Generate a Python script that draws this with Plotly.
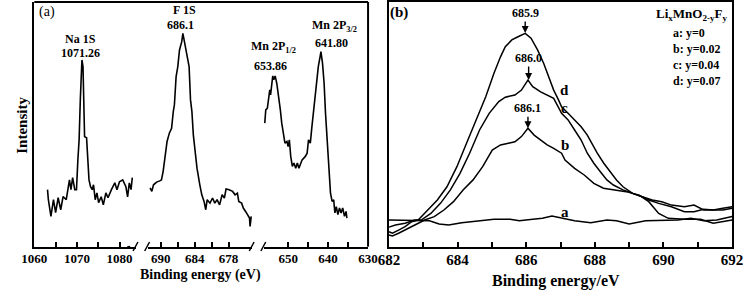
import plotly.graph_objects as go

# ---------------- Panel (a) data ----------------
na_energy = [1063.1, 1063.3, 1063.9, 1064.5, 1065.0, 1065.6, 1066.2, 1066.75, 1067.5, 1068.25,
             1068.6, 1069.0, 1069.5, 1069.9, 1070.23, 1070.52, 1070.8, 1070.98, 1071.18, 1071.43,
             1071.66, 1071.8, 1072.27, 1072.6, 1072.84, 1073.2, 1073.6, 1073.9, 1074.3, 1074.7,
             1075.1, 1075.7, 1076.2, 1076.8, 1077.3, 1078.1, 1078.9, 1079.4, 1080.0, 1080.75,
             1081.5, 1081.9, 1082.3, 1082.7, 1083.0]
na_int = [23.3, 19.2, 12.4, 19.2, 13.9, 20.0, 15.1, 20.5, 19.2, 27.3,
          23.3, 28.2, 23.3, 23.3, 35.5, 43.7, 60.0, 73.6, 76.3, 73.6,
          55.9, 45.0, 44.5, 35.5, 27.3, 24.5, 23.3, 25.3, 19.2, 22.0,
          18.0, 20.4, 17.1, 22.0, 20.0, 23.3, 26.1, 23.3, 26.5, 27.3,
          24.5, 20.4, 26.1, 23.3, 28.2]

f_energy = [691.9, 691.6, 691.3, 690.75, 690.2, 689.9, 689.6, 689.3, 688.9, 688.5,
            688.1, 687.8, 687.6, 687.3, 687.0, 686.7, 686.3, 686.1, 685.6, 685.3,
            685.0, 684.75, 684.5, 684.25, 684.05, 683.6, 683.1, 682.75, 682.35, 682.05,
            681.8, 681.3, 680.85, 680.45, 680.05, 679.6, 679.15, 678.75, 678.45, 677.9,
            677.3, 676.85, 676.45, 676.2, 675.7, 675.4, 675.0, 674.7, 674.3, 674.2, 674.0]
f_int = [24.0, 22.6, 25.3, 26.4, 26.9, 27.3, 30.7, 36.2, 43.0, 46.4,
         48.4, 55.2, 58.0, 69.5, 73.6, 80.4, 83.8, 87.2, 80.4, 77.7,
         73.6, 60.0, 55.2, 45.7, 41.6, 32.1, 25.3, 21.2, 18.5, 15.1,
         19.2, 17.8, 19.9, 17.8, 19.2, 17.1, 21.2, 19.9, 23.6, 23.3,
         22.6, 21.2, 21.9, 18.5, 17.8, 15.8, 14.4, 13.1, 11.7, 8.3, 12.4]

mn_energy = [655.85, 655.6, 655.2, 654.9, 654.6, 654.4, 654.1, 653.85, 653.6, 653.25,
             652.85, 652.45, 651.95, 651.6, 651.15, 650.8, 650.3, 650.0, 649.7, 649.35,
             648.95, 648.55, 648.1, 647.7, 647.3, 646.9, 646.5, 645.7, 645.25, 644.9,
             644.45, 644.05, 643.65, 643.25, 642.85, 642.45, 642.0, 641.8, 641.4, 641.0,
             640.65, 640.25, 639.85, 639.4, 639.0, 638.6, 638.3, 637.95, 637.55, 637.15,
             636.75, 636.35, 635.9, 635.5, 635.3]
mn_int = [50.5, 55.9, 56.6, 61.3, 64.1, 62.0, 68.2, 69.8, 68.2, 69.8,
          66.8, 62.7, 55.9, 50.5, 45.0, 42.3, 43.0, 40.9, 43.7, 36.9,
          32.8, 34.2, 32.1, 34.2, 32.1, 34.2, 35.5, 36.9, 38.2, 43.7,
          42.3, 49.1, 55.9, 60.0, 66.8, 73.6, 77.7, 79.7, 75.0, 66.8,
          54.6, 43.7, 30.1, 21.9, 18.5, 19.2, 13.8, 16.4, 13.1, 15.8,
          13.8, 15.8, 12.4, 14.4, 11.7]

seg1_ticks = [1060, 1070, 1080]
seg1_minor = [1065, 1075]
seg2_ticks = [690, 684, 678]
seg2_minor = [687, 681]
seg3_ticks = [650, 640, 630]
seg3_minor = [645, 635]

# ---------------- Panel (b) data ----------------
a_E = [682.0, 682.7, 683.18, 683.46, 683.74, 684.12, 684.6, 685.06, 685.53, 685.8,
       686.19, 686.47, 686.75, 687.03, 687.41, 687.88, 688.35, 688.63, 689.0, 689.48,
       689.95, 690.42, 690.8, 691.17, 691.55, 692.0]
a_I = [10.9, 10.9, 10.6, 9.3, 8.9, 9.8, 10.6, 11.2, 11.2, 10.6,
       11.2, 11.6, 12.5, 11.6, 10.6, 9.8, 10.9, 10.6, 9.3, 10.6,
       10.9, 10.9, 11.6, 10.6, 10.9, 12.3]

b_E = [682.0, 682.1, 682.28, 682.47, 682.75, 683.04, 683.32, 683.6, 683.88, 684.16,
       684.45, 684.73, 685.01, 685.25, 685.48, 685.67, 685.86, 686.05, 686.23, 686.42,
       686.61, 686.8, 687.03, 687.13, 687.41, 687.69, 687.97, 688.25, 688.54, 688.91,
       689.29, 689.57, 689.86, 690.14, 690.61, 691.08, 691.45, 691.73, 692.0]
b_I = [4.8, 4.4, 5.5, 6.8, 8.9, 10.9, 12.3, 15.0, 18.4, 23.2,
       27.3, 32.7, 39.5, 41.6, 42.3, 42.9, 45.0, 48.4, 45.6, 43.6,
       41.6, 40.2, 38.2, 35.4, 32.0, 29.3, 25.9, 23.9, 23.2, 22.5,
       21.1, 18.4, 13.6, 11.6, 11.2, 11.2, 9.6, 10.2, 10.9]

c_E = [682.0, 682.19, 682.47, 682.75, 682.94, 683.22, 683.5, 683.79, 684.07, 684.35,
       684.64, 684.92, 685.2, 685.39, 685.67, 685.86, 686.05, 686.19, 686.42, 686.61,
       686.8, 687.03, 687.22, 687.41, 687.6, 687.78, 687.97, 688.16, 688.35, 688.54,
       688.82, 689.1, 689.38, 689.57, 689.86, 690.23, 690.61, 690.89, 691.17, 691.45,
       691.73, 692.0]
c_I = [8.0, 8.9, 9.6, 10.9, 10.9, 13.6, 17.7, 23.2, 30.0, 38.2,
       47.7, 54.5, 59.3, 61.1, 62.0, 64.0, 68.1, 65.4, 63.3, 62.0,
       60.6, 54.5, 51.8, 47.7, 43.6, 38.2, 34.1, 30.6, 27.3, 25.2,
       23.2, 21.8, 20.4, 19.1, 17.7, 16.3, 14.3, 14.3, 15.3, 15.0,
       15.0, 15.7]

d_E = [682.0, 682.1, 682.28, 682.47, 682.66, 682.85, 683.13, 683.41, 683.69, 683.98,
       684.26, 684.54, 684.82, 685.06, 685.25, 685.39, 685.58, 685.76, 685.97, 686.14,
       686.33, 686.51, 686.66, 686.8, 686.94, 687.03, 687.22, 687.41, 687.6, 687.78,
       687.93, 688.07, 688.26, 688.44, 688.63, 688.82, 689.1, 689.38, 689.67, 689.95,
       690.23, 690.61, 690.89, 691.17, 691.45, 691.73, 692.0]
d_I = [6.1, 5.5, 6.8, 8.2, 10.2, 10.9, 15.0, 19.1, 24.5, 32.7,
       42.3, 51.8, 61.3, 70.9, 77.6, 81.7, 84.5, 85.8, 87.2, 85.2,
       80.4, 74.9, 69.5, 64.0, 60.0, 57.2, 54.5, 51.8, 49.0, 45.6,
       41.6, 38.2, 34.1, 30.6, 27.3, 24.5, 21.8, 20.4, 19.1, 18.4,
       17.0, 16.3, 17.0, 15.0, 15.0, 15.7, 16.3]

b_ticks = [682, 684, 686, 688, 690, 692]
legend_lines = ["a: y=0", "b: y=0.02", "c: y=0.04", "d: y=0.07"]

# ---------------- Figure ----------------
W, H = 756, 293
SERIF = "Liberation Serif"


def px(x):
    return x / W


def py(y):
    return 1 - y / H


Y_DOM = [py(246.7), py(2)]
line = dict(color="black", width=1.6)

fig = go.Figure()
fig.add_trace(go.Scatter(x=na_energy, y=na_int, mode="lines", line=line, xaxis="x", yaxis="y"))
fig.add_trace(go.Scatter(x=f_energy, y=f_int, mode="lines", line=line, xaxis="x2", yaxis="y"))
fig.add_trace(go.Scatter(x=mn_energy, y=mn_int, mode="lines", line=line, xaxis="x3", yaxis="y"))
for E, I in [(a_E, a_I), (b_E, b_I), (c_E, c_I), (d_E, d_I)]:
    fig.add_trace(go.Scatter(x=E, y=I, mode="lines", line=dict(color="black", width=1.5),
                             xaxis="x4", yaxis="y2"))

tickfont_a = dict(family=SERIF, size=13, color="black")
tickfont_b = dict(family=SERIF, size=15, color="black")


def btext(vals):
    return ["<b>%g</b>" % v for v in vals]


def seg_axis(dom, rng, ticks, minor):
    return dict(domain=[px(dom[0]), px(dom[1])], range=rng, anchor="y",
                tickmode="array", tickvals=ticks, ticktext=btext(ticks),
                ticks="inside", ticklen=5, tickwidth=1.5, tickcolor="black",
                ticklabelstandoff=-1,
                minor=dict(tickmode="array", tickvals=minor, ticks="inside", ticklen=5,
                           tickwidth=1.5, tickcolor="black"),
                showline=True, linecolor="black", linewidth=2, showgrid=False, zeroline=False,
                tickfont=tickfont_a, fixedrange=True)


fig.update_layout(
    width=W, height=H, margin=dict(l=0, r=0, t=0, b=0),
    paper_bgcolor="white", plot_bgcolor="white", showlegend=False,
    xaxis=seg_axis([22, 127], [1060, 1060 + 105 / 4.4], seg1_ticks, seg1_minor),
    xaxis2=seg_axis([139, 247], [690 + (152.7 - 139) / 5.83, 678 - (247 - 222.7) / 5.83],
                    seg2_ticks, seg2_minor),
    xaxis3=seg_axis([259, 366.7], [650 + (284 - 259) / 4.1, 630], seg3_ticks, seg3_minor),
    yaxis=dict(domain=Y_DOM, range=[0, 100], anchor="x", showticklabels=False, ticks="",
               showline=True, linecolor="black", linewidth=2, showgrid=False, zeroline=False),
    xaxis4=dict(domain=[px(388.3), px(742.7)], range=[682, 692], anchor="y2",
                tickmode="array", tickvals=b_ticks, ticktext=btext(b_ticks),
                ticks="inside", ticklen=5, tickwidth=1.5, tickcolor="black",
                ticklabelstandoff=-2,
                minor=dict(dtick=1, tick0=682, ticks="inside", ticklen=5, tickwidth=1.5,
                           tickcolor="black"),
                showline=True, mirror=True, linecolor="black", linewidth=2,
                showgrid=False, zeroline=False, tickfont=tickfont_b),
    yaxis2=dict(domain=Y_DOM, range=[0, 100], anchor="x4", showticklabels=False, ticks="",
                showline=True, mirror=True, linecolor="black", linewidth=2,
                showgrid=False, zeroline=False),
)

# frame of panel (a): top and right borders
shapes = [
    dict(type="line", xref="paper", yref="paper", x0=px(22), x1=px(366.7), y0=py(2), y1=py(2),
         line=dict(color="black", width=2)),
    dict(type="line", xref="paper", yref="paper", x0=px(366.7), x1=px(366.7), y0=py(2),
         y1=py(246.7), line=dict(color="black", width=2)),
]
# axis-break marks
for x0 in [124, 136, 244, 256]:
    shapes.append(dict(type="line", xref="paper", yref="paper", x0=px(x0), x1=px(x0 + 5),
                       y0=py(251), y1=py(242), line=dict(color="black", width=1.5)))
shapes.append(dict(type="line", xref="paper", yref="paper", x0=px(118), x1=px(123),
                   y0=py(247), y1=py(246), line=dict(color="black", width=1.5, dash="dot")))
fig.update_layout(shapes=shapes)


def bold(size):
    return dict(family=SERIF, size=size, color="black")


def B(t):
    return "<b>" + t + "</b>"


ann = []
# panel (a) peak labels
ann += [
    dict(x=1070.9, y=84.9, xref="x", yref="y", text=B("Na 1S"), font=bold(12)),
    dict(x=1070.9, y=79.2, xref="x", yref="y", text=B("1071.26"), font=bold(12)),
    dict(x=685.83, y=96.7, xref="x2", yref="y", text=B("F 1S"), font=bold(12)),
    dict(x=686.55, y=90.6, xref="x2", yref="y", text=B("686.1"), font=bold(12)),
    dict(x=653.66, y=81.6, xref="x3", yref="y", text=B("Mn 2P<sub>1/2</sub>"), font=bold(12)),
    dict(x=654.44, y=74.0, xref="x3", yref="y", text=B("653.86"), font=bold(12)),
    dict(x=638.4, y=90.2, xref="x3", yref="y", text=B("Mn 2P<sub>3/2</sub>"), font=bold(12)),
    dict(x=639.2, y=83.1, xref="x3", yref="y", text=B("641.80"), font=bold(12)),
    dict(x=px(35), y=py(12), xref="paper", yref="paper", text="(a)",
         font=dict(family=SERIF, size=14, color="black")),
    dict(x=px(9), y=py(125), xref="paper", yref="paper", text=B("Intensity"), textangle=-90,
         font=bold(15)),
    dict(x=px(194), y=py(275), xref="paper", yref="paper", text=B("Binding energy (eV)"),
         font=bold(14)),
]
# panel (b)
ann += [
    dict(x=px(399), y=py(13), xref="paper", yref="paper", text=B("(b)"), font=bold(15)),
    dict(x=px(561), y=py(281), xref="paper", yref="paper", text=B("Binding energy/eV"),
         font=bold(16)),
    dict(x=px(741), y=py(15), xref="paper", yref="paper", xanchor="right",
         text=B("Li<sub>x</sub>MnO<sub>2-y</sub>F<sub>y</sub>"), font=bold(13)),
]
for i, t in enumerate(legend_lines):
    ann.append(dict(x=px(680), y=py(33 + 16 * i), xref="paper", yref="paper", xanchor="left",
                    text=B(t), font=bold(12)))
for lbl, yv in [("d", 64.0), ("c", 56.7), ("b", 41.6), ("a", 14.3)]:
    ann.append(dict(x=687.12, y=yv, xref="x4", yref="y2", text=B(lbl), font=bold(15)))
# arrows to peaks
for txt, xv, yv, ay in [("685.9", 685.97, 87.3, -20), ("686.0", 686.07, 68.1, -22),
                        ("686.1", 686.05, 48.4, -20)]:
    ann.append(dict(x=xv, y=yv, xref="x4", yref="y2", text=B(txt), showarrow=True,
                    arrowhead=2, arrowsize=1, arrowwidth=1.4, arrowcolor="black",
                    ax=0, ay=ay, standoff=0, font=bold(12)))
for a in ann:
    a.setdefault("showarrow", False)
    a.setdefault("xanchor", "center")
    a.setdefault("yanchor", "middle")
fig.update_layout(annotations=ann)

fig.write_html("out.html", config={"displayModeBar": False},
               post_script="document.body.style.margin='0px';document.body.style.padding='0px';")
